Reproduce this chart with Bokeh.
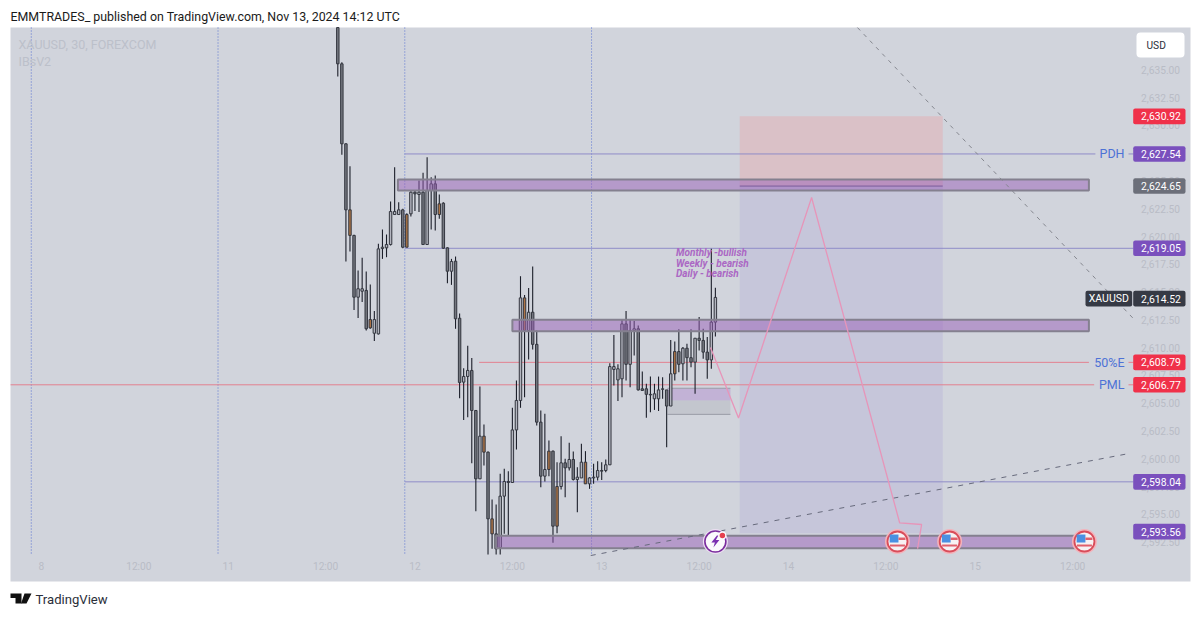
from bokeh.plotting import figure
from bokeh.embed import file_html
from bokeh.resources import INLINE
from bokeh.models import Range1d, LinearAxis, FixedTicker
from bokeh.core.properties import value

# ---------- data ----------
opens = [2638.8,2635.54,2628.34,2622.4,2620.1,2614.54,2615.08,2615.15,2611.78,2611.3,2611.24,2618.92,2618.98,2619.28,2621.98,2621.98,2622.4,2619.04,2622.04,2623.99,2623.78,2623.99,2619.28,2624.14,2624.74,2621.98,2623.0,2618.98,2616.88,2617.78,2612.65,2606.9,2607.41,2607.95,2604.35,2598.2,2602.04,2600.6,2594.6,2593.25,2591.99,2596.64,2597.96,2597.87,2602.6,2605.25,2614.48,2611.54,2613.19,2610.3,2603.3,2598.44,2599.04,2600.69,2593.94,2597.51,2599.64,2599.19,2599.94,2598.14,2598.28,2599.7,2597.75,2598.28,2598.35,2598.95,2598.95,2599.46,2608.04,2607.1,2607.2,2612.14,2608.5,2611.54,2611.7,2606.3,2606.3,2605.8,2605.4,2605.4,2606.25,2606.2,2604.75,2607.65,2609.65,2608.55,2609.95,2609.1,2608.7,2610.85,2610.65,2609.6,2608.9,2612.3]
highs = [2638.8,2635.69,2628.4,2626.33,2620.15,2616.94,2618.1,2616.85,2615.68,2613.3,2619.34,2620.63,2620.18,2623.15,2626.24,2623.09,2622.49,2622.1,2624.08,2624.14,2625.04,2625.73,2627.14,2625.34,2625.49,2623.78,2623.09,2619.04,2617.99,2618.2,2613.07,2608.16,2610.17,2609.06,2604.4,2606.5,2603.09,2600.66,2596.34,2595.89,2598.65,2599.1,2598.89,2604.59,2607.04,2616.43,2614.75,2615.38,2617.3,2611.54,2604.35,2604.05,2601.65,2600.75,2599.7,2602.04,2600.0,2601.44,2600.66,2599.25,2601.35,2600.69,2598.35,2599.55,2599.79,2599.7,2599.94,2608.6,2611.15,2608.5,2612.5,2613.3,2612.5,2612.39,2612.0,2607.85,2606.75,2607.4,2606.75,2607.4,2607.35,2606.2,2610.7,2610.55,2611.65,2610.05,2610.35,2611.65,2610.85,2612.75,2611.7,2610.95,2618.9,2615.4]
lows = [2634.4,2627.35,2617.75,2618.65,2613.4,2612.68,2614.1,2611.54,2611.7,2610.6,2611.18,2617.99,2618.14,2619.19,2621.98,2621.98,2618.95,2619.04,2621.8,2622.3,2622.2,2619.28,2619.28,2620.63,2620.54,2621.6,2618.89,2615.8,2615.65,2611.7,2605.45,2603.5,2603.75,2599.6,2595.28,2598.2,2599.4,2591.39,2591.9,2591.39,2591.39,2593.25,2593.1,2597.87,2600.84,2604.59,2605.55,2608.94,2609.84,2603.0,2597.45,2597.96,2598.44,2592.44,2593.31,2597.24,2596.55,2598.95,2598.05,2595.2,2598.28,2597.75,2597.3,2597.75,2598.05,2598.1,2598.8,2599.46,2606.6,2605.2,2605.55,2607.05,2606.45,2609.3,2606.15,2606.1,2603.7,2604.2,2604.4,2604.3,2605.4,2601.05,2604.75,2607.05,2607.8,2607.05,2607.05,2608.25,2605.85,2609.75,2609.0,2607.2,2608.1,2611.0]
closes = [2635.54,2628.34,2622.4,2620.1,2614.54,2615.3,2615.3,2611.7,2612.53,2612.53,2618.89,2619.04,2619.28,2622.25,2622.25,2622.4,2619.04,2621.98,2623.99,2623.84,2623.99,2619.28,2624.14,2624.74,2621.98,2622.94,2618.95,2616.88,2617.75,2612.6,2606.87,2607.41,2607.95,2604.35,2598.2,2602.04,2600.6,2594.6,2593.25,2591.9,2596.64,2597.96,2597.87,2602.6,2605.25,2614.48,2611.54,2613.19,2610.3,2603.3,2598.44,2599.04,2600.69,2593.94,2597.51,2599.64,2599.19,2599.94,2598.14,2598.35,2599.7,2597.75,2598.28,2598.35,2598.95,2598.89,2599.46,2608.3,2608.3,2608.1,2612.14,2608.5,2611.54,2611.7,2606.2,2606.15,2605.8,2605.75,2605.85,2606.2,2606.3,2604.75,2607.65,2609.65,2608.5,2609.95,2609.1,2608.7,2610.85,2610.65,2609.6,2608.9,2612.3,2614.52]
first_bar = 75
orange_bars = [3,8,17,25,36,38,46,52,54,61,83]

session_breaks = [-0.5, 45.5, 91.5, 137.5]
time_ticks = [2, 26, 48, 72, 94, 118, 140, 164, 186, 210, 232, 256]
time_labels = ["8","12:00","11","12:00","12","12:00","13","12:00","14","12:00","15","12:00"]
price_ticks = [2635.0,2632.5,2630.0,2627.5,2625.0,2622.5,2620.0,2617.5,2615.0,2612.5,2610.0,2607.5,2605.0,2602.5,2600.0,2597.5,2595.0,2592.5]

# horizontal levels: price, first bar, last bar
level_prices = [2627.54, 2619.05, 2598.04]
level_starts = [91.5, 91.5, 91.5]
level_ends   = [261.6, 271.0, 271.0]
red_prices = [2608.79, 2606.77]
red_starts = [109.8, -5.6]
red_ends   = [260.0, 261.3]
level_tag_names = ["PDH", "50%E", "PML"]
level_tag_prices = [2627.54, 2608.79, 2606.77]

zone_tops = [2625.13, 2612.51, 2593.09]
zone_bottoms = [2624.14, 2611.48, 2591.95]
zone_starts = [89.8, 118.0, 114.0]
zone_ends = [260.0, 260.0, 260.0]

pos_start, pos_end = 174.0, 224.0
pos_stop, pos_entry, pos_target = 2630.92, 2624.65, 2593.3

box_start, box_end = 156.2, 171.7
box_top, box_mid, box_bottom = 2606.35, 2605.25, 2604.0

path_bars = [166.8, 173.7, 191.7, 213.4, 218.8, 217.8]
path_prices = [2610.02, 2603.67, 2623.51, 2594.23, 2594.09, 2591.93]

trend_a_bars = [203.0, 271.0]
trend_a_prices = [2638.8, 2612.6]
trend_b_bars = [137.3, 269.5]
trend_b_prices = [2591.3, 2600.45]

tag_prices = [2630.92, 2627.54, 2624.65, 2619.05, 2614.52, 2608.79, 2606.77, 2598.04, 2593.56]
tag_kinds = ["red","purple","gray","purple","dark","red","red","purple","purple"]

flag_bars = [212.85, 225.7, 258.9]
bolt_bar = 168.0
event_price = 2592.56

bias_notes = ["Monthly -bullish", "Weekly - bearish", "Daily - bearish"]
bias_prices = [2618.58, 2617.58, 2616.68]
bias_bar = 158.3

# ---------- layout ----------
W, H = 1200, 617
BAR_PX = 4.06
PRICE_PX = 11.115
LEVEL_NUDGE = 0.11   # the reference's tags and level lines sit about 1px below the axis labels' scale
ROBOTO = value("Roboto")
def fx(px):  # window pixel -> bar
    return (px - 32.8) / BAR_PX
def fy(py):  # window pixel -> price
    return 2635 - (py - 69.3) / PRICE_PX
def lv(v):
    return v - LEVEL_NUDGE

p = figure(width=W, height=H, output_backend="svg", toolbar_location=None,
           x_range=Range1d(fx(0), fx(W)), y_range=Range1d(fy(H), fy(0)),
           x_axis_type=None, y_axis_type=None, min_border=0,
           outline_line_color=None, background_fill_color="white", border_fill_color="white")
p.xgrid.visible = False
p.ygrid.visible = False

# chart panel
CHART_BG = "#d1d4dc"
p.quad(left=[fx(10)], right=[fx(1190)], top=[fy(27)], bottom=[fy(581)],
       fill_color=CHART_BG, line_color=None, level="image")

# axes, inside the panel (a fixed_location axis takes no layout room)
AXIS_C = "#b9bcc6"
yax = LinearAxis(fixed_location=fx(1140.5), ticker=FixedTicker(ticks=price_ticks),
                 major_label_overrides={v: f"{v:,.2f}" for v in price_ticks},
                 major_label_text_color=AXIS_C, major_label_text_font="Roboto",
                 major_label_text_font_size="10.2px", major_tick_line_color=None,
                 minor_tick_line_color=None, axis_line_color=None, major_label_standoff=0,
                 major_tick_out=0, major_tick_in=0, minor_tick_out=0, minor_tick_in=0,
                 level="underlay")
p.add_layout(yax, "right")
xax = LinearAxis(fixed_location=fy(560), ticker=FixedTicker(ticks=time_ticks),
                 major_label_overrides=dict(zip(time_ticks, time_labels)),
                 major_label_text_color=AXIS_C, major_label_text_font="Roboto",
                 major_label_text_font_size="10.2px", major_tick_line_color=None,
                 minor_tick_line_color=None, axis_line_color=None, major_label_standoff=0,
                 major_tick_out=0, major_tick_in=0, minor_tick_out=0, minor_tick_in=0,
                 level="underlay")
p.add_layout(xax, "below")

# session breaks
p.segment(x0=session_breaks, x1=session_breaks, y0=[fy(27)]*4, y1=[fy(553)]*4,
          line_color="#5a74d2", line_width=1, line_dash=value([1, 2]), level="image")

# position tool
p.quad(left=[pos_start], right=[pos_end], top=[lv(pos_stop)], bottom=[lv(pos_entry)],
       fill_color="#dcbcc2", fill_alpha=0.8, line_color=None, level="underlay")
p.quad(left=[pos_start], right=[pos_end], top=[lv(pos_entry)], bottom=[pos_target],
       fill_color="#c3c2da", fill_alpha=0.8, line_color=None, level="underlay")

# horizontal levels
LEVEL_C = "#8f8cc8"
RED_C = "#e3808f"
level_ys = [lv(v) for v in level_prices]
red_ys = [lv(v) for v in red_prices]
p.segment(x0=level_starts, x1=level_ends, y0=level_ys, y1=level_ys, line_color=LEVEL_C, line_width=1)
p.segment(x0=red_starts, x1=red_ends, y0=red_ys, y1=red_ys, line_color=RED_C, line_width=1)
for v, col in zip(level_tag_prices, [LEVEL_C, RED_C, RED_C]):
    p.segment(x0=[fx(1128)], x1=[fx(1133)], y0=[lv(v)], y1=[lv(v)], line_color=col, line_width=1)

# small grey/purple box
p.quad(left=[box_start], right=[box_end], top=[box_top], bottom=[box_mid],
       fill_color="#b48fd0", fill_alpha=0.5, line_color=None)
p.quad(left=[box_start], right=[box_end], top=[box_mid], bottom=[box_bottom],
       fill_color="#a8abb5", fill_alpha=0.35, line_color=None)
p.segment(x0=[box_start]*2, x1=[box_end]*2, y0=[box_top, box_bottom], y1=[box_top, box_bottom],
          line_color="#9a9ca6", line_width=1)

# candles
bars = [first_bar + i for i in range(len(opens))]
body_top = [max(a, b) for a, b in zip(opens, closes)]
body_bot = [min(a, b) for a, b in zip(opens, closes)]
fills = []
for i, (o, c) in enumerate(zip(opens, closes)):
    if i in orange_bars:
        fills.append("#ad7445")
    elif c >= o:
        fills.append("#b3b5bf")
    else:
        fills.append("#74777f")
p.segment(x0=bars, x1=bars, y0=lows, y1=highs, line_color="#1c1f2a", line_width=1.1)
half = 0.3
p.quad(left=[b - half for b in bars], right=[b + half for b in bars], top=body_top, bottom=body_bot,
       fill_color=fills, line_color="#33363f", line_width=1)

# zones
for t, b, s, e in zip(zone_tops, zone_bottoms, zone_starts, zone_ends):
    p.quad(left=[s], right=[e], top=[t], bottom=[b], fill_color="#9a5fb8", fill_alpha=0.5,
           line_color="#84808f", line_width=2)

# entry line
p.segment(x0=[pos_start], x1=[pos_end], y0=[lv(pos_entry)], y1=[lv(pos_entry)], line_color="#7b5c9b", line_width=1)

# dashed trends
p.line(trend_a_bars, trend_a_prices, line_color="#85878f", line_width=1, line_dash=[4, 5])
p.line(trend_b_bars, trend_b_prices, line_color="#676a7c", line_width=1, line_dash=[5, 6])

# drawn path
p.line(path_bars, path_prices, line_color="#e795b9", line_width=1.3)

# event icons
def offset_px(cx, cy, dx0, dx1, dy0, dy1, color):
    p.quad(left=[cx + dx0 / BAR_PX], right=[cx + dx1 / BAR_PX],
           top=[cy - dy0 / PRICE_PX], bottom=[cy - dy1 / PRICE_PX],
           fill_color=color, line_color=None)

for fb in flag_bars:
    p.scatter([fb], [event_price], size=25, marker="circle", fill_color="#f3b3bb", line_color=None)
    p.scatter([fb], [event_price], size=20, marker="circle", fill_color="#f7f1f2",
              line_color="#d94c5a", line_width=1.8)
    offset_px(fb, event_price, -7.8, 1, -7, 1, "#4a90e2")
    offset_px(fb, event_price, 1, 8, -4, -1.5, "#e0606c")
    offset_px(fb, event_price, -7.5, 7.5, 3, 5, "#e0606c")

p.scatter([bolt_bar], [event_price], size=25, marker="circle", fill_color="#ecdff2", line_color=None)
p.scatter([bolt_bar], [event_price], size=21, marker="circle", fill_color="#fbf9fc",
          line_color="#7b2d9e", line_width=1.6)
bolt_dx = [1.5, -4, -0.5, -2, 4, 0.5, 3]
bolt_dy = [-6, 1, 1, 6, -1.5, -1.5, -6]
p.patch([bolt_bar + d / BAR_PX for d in bolt_dx], [event_price - d / PRICE_PX for d in bolt_dy],
        fill_color="#7b2fb0", line_color=None)
p.scatter([bolt_bar + 7 / BAR_PX], [event_price + 6 / PRICE_PX], size=8, marker="circle",
          fill_color="#fbf9fc", line_color=None)
p.scatter([bolt_bar + 7 / BAR_PX], [event_price + 6 / PRICE_PX], size=5.5, marker="circle",
          fill_color="#e6404f", line_color=None)

# price tags
TAG_C = {"red": "#f0314a", "purple": "#7a50bd", "gray": "#6c6f7a", "dark": "#363a45"}
tag_l, tag_r = fx(1132.7), fx(1185)
tag_h = 7.8 / PRICE_PX
tag_ys = [lv(v) for v in tag_prices]
p.quad(left=[tag_l]*len(tag_prices), right=[tag_r]*len(tag_prices),
       top=[v + tag_h for v in tag_ys], bottom=[v - tag_h for v in tag_ys],
       fill_color=[TAG_C[k] for k in tag_kinds], line_color=None, border_radius=2)
p.text(x=[fx(1160.5)]*len(tag_prices), y=tag_ys, text=[f"{v:,.2f}" for v in tag_prices],
       text_color="white", text_font=ROBOTO, text_font_size="10.4px",
       text_align="center", text_baseline="middle")
# XAUUSD tag
cur_y = lv(tag_prices[4])
p.quad(left=[fx(1085)], right=[fx(1131.7)], top=[cur_y + tag_h], bottom=[cur_y - tag_h],
       fill_color=TAG_C["dark"], line_color=None, border_radius=2)
p.text(x=[fx(1108.3)], y=[cur_y], text=["XAUUSD"], text_color="white", text_font=ROBOTO,
       text_font_size="10.5px", text_align="center", text_baseline="middle")

# level names
p.text(x=[fx(1124)]*3, y=[lv(v) for v in level_tag_prices], text=level_tag_names, text_color="#4d72d6",
       text_font=ROBOTO, text_font_size="12.5px", text_align="right", text_baseline="middle")

# bias notes
p.text(x=[bias_bar]*3, y=bias_prices, text=bias_notes, text_color="#ab68c4", text_font=ROBOTO,
       text_font_style="bold italic", text_font_size="10px", text_align="left", text_baseline="middle")

# watermark and header/footer text
p.text(x=[fx(18), fx(18)], y=[fy(44), fy(61)], text=["XAUUSD, 30, FOREXCOM", "IBsV2"],
       text_color="#bcc0ca", text_font=ROBOTO, text_font_size="12.5px",
       text_align="left", text_baseline="middle")
p.text(x=[fx(10)], y=[fy(15.5)], text=["EMMTRADES_ published on TradingView.com, Nov 13, 2024 14:12 UTC"],
       text_color="#1a1a1a", text_font=ROBOTO, text_font_size="12.4px",
       text_align="left", text_baseline="middle")
p.text(x=[fx(35)], y=[fy(599)], text=["TradingView"], text_color="#2a2e39", text_font=ROBOTO,
       text_font_size="13.1px", text_align="left", text_baseline="middle")

# USD button
p.quad(left=[fx(1136)], right=[fx(1184)], top=[fy(32)], bottom=[fy(57)], fill_color="white",
       line_color=None, border_radius=4)
p.text(x=[fx(1146)], y=[fy(45)], text=["USD"], text_color="#2a2e39", text_font=ROBOTO,
       text_font_size="10.2px", text_align="left", text_baseline="middle")

# logo
logo_a_x = [10, 21, 21, 15, 15, 10]
logo_a_y = [593, 593, 603, 603, 597.5, 597.5]
p.patch([fx(v) for v in logo_a_x], [fy(v) for v in logo_a_y], fill_color="#111111", line_color=None)
logo_b_x = [24, 31, 26, 20.5]
logo_b_y = [593, 593, 603, 603]
p.patch([fx(v) for v in logo_b_x], [fy(v) for v in logo_b_y], fill_color="#111111", line_color=None)

open("out.html", "w").write(file_html(p, INLINE))
